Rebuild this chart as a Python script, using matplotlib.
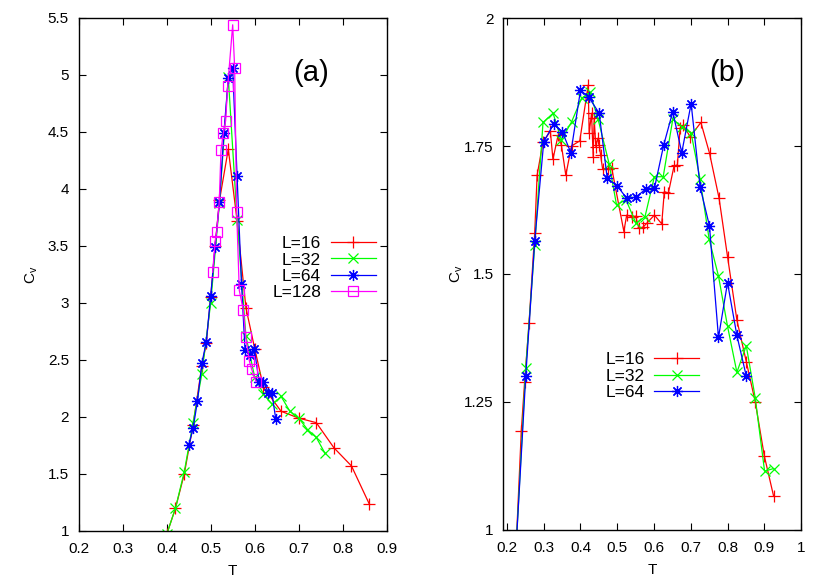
import matplotlib
matplotlib.use("Agg")
import matplotlib.pyplot as plt

plt.rcParams["font.family"] = ["Liberation Sans", "DejaVu Sans"]

# ---- panel (a) data ----
t16_a = [0.40, 0.42, 0.44, 0.46, 0.48, 0.49, 0.50, 0.51, 0.52, 0.54, 0.56, 0.58, 0.60, 0.62, 0.66, 0.70, 0.74, 0.78, 0.82, 0.86]
cv16_a = [0.97, 1.20, 1.50, 1.93, 2.45, 2.65, 3.05, 3.50, 3.90, 4.35, 3.72, 2.96, 2.60, 2.26, 2.05, 1.99, 1.95, 1.73, 1.57, 1.24]

t32_a = [0.40, 0.42, 0.44, 0.46, 0.48, 0.50, 0.52, 0.54, 0.56, 0.58, 0.60, 0.62, 0.64, 0.66, 0.68, 0.70, 0.72, 0.74, 0.76]
cv32_a = [0.97, 1.20, 1.52, 1.95, 2.38, 3.00, 3.88, 4.98, 3.73, 2.71, 2.35, 2.20, 2.11, 2.18, 2.05, 1.99, 1.89, 1.82, 1.68]

t64_a = [0.45, 0.46, 0.47, 0.48, 0.49, 0.50, 0.51, 0.52, 0.53, 0.54, 0.55, 0.56, 0.57, 0.578, 0.589, 0.599, 0.61, 0.62, 0.631, 0.639, 0.648]
cv64_a = [1.75, 1.90, 2.14, 2.47, 2.66, 3.06, 3.49, 3.89, 4.49, 4.97, 5.06, 4.11, 3.17, 2.59, 2.54, 2.60, 2.31, 2.31, 2.21, 2.21, 1.98]

t128_a = [0.5045, 0.51, 0.5136, 0.5195, 0.5234, 0.5287, 0.534, 0.5386, 0.55, 0.5545, 0.559, 0.565, 0.574, 0.5795, 0.588, 0.593, 0.603]
cv128_a = [3.27, 3.54, 3.62, 3.89, 4.34, 4.49, 4.60, 4.90, 5.44, 5.06, 3.80, 3.11, 2.94, 2.70, 2.49, 2.42, 2.31]

# ---- panel (b) data ----
t16_b = [0.225, 0.239, 0.248, 0.26, 0.2755, 0.282, 0.298, 0.318, 0.325, 0.339, 0.348, 0.36, 0.3756, 0.398,
         0.4209, 0.4236, 0.43, 0.4345, 0.4372, 0.4418, 0.4465, 0.451, 0.4547, 0.46, 0.4754, 0.4846,
         0.518, 0.5256, 0.539, 0.55, 0.559, 0.571, 0.58, 0.601, 0.621, 0.628, 0.639, 0.6545, 0.6636,
         0.671, 0.68, 0.698, 0.7275, 0.751, 0.777, 0.80, 0.8255, 0.851, 0.8755, 0.90, 0.9254]
cv16_b = [0.97, 1.194, 1.29, 1.404, 1.581, 1.693, 1.758, 1.779, 1.724, 1.771, 1.752, 1.693, 1.75, 1.76,
          1.869, 1.775, 1.814, 1.729, 1.804, 1.749, 1.765, 1.752, 1.732, 1.706, 1.706, 1.708,
          1.583, 1.615, 1.612, 1.613, 1.589, 1.592, 1.599, 1.615, 1.598, 1.661, 1.658, 1.711, 1.713,
          1.785, 1.791, 1.768, 1.796, 1.736, 1.648, 1.534, 1.41, 1.329, 1.25, 1.145, 1.066]

t32_b = [0.225, 0.251, 0.2755, 0.298, 0.3254, 0.348, 0.3756, 0.4028, 0.4255, 0.448, 0.478, 0.498, 0.5237,
         0.551, 0.5755, 0.601, 0.625, 0.651, 0.6755, 0.701, 0.7254, 0.75, 0.7754, 0.80, 0.8255, 0.851,
         0.8754, 0.9008, 0.9254]
cv32_b = [0.97, 1.316, 1.557, 1.796, 1.814, 1.762, 1.797, 1.843, 1.855, 1.802, 1.715, 1.635, 1.645,
          1.599, 1.612, 1.69, 1.69, 1.802, 1.788, 1.775, 1.685, 1.568, 1.496, 1.398, 1.308, 1.36,
          1.258, 1.115, 1.12]

t64_b = [0.225, 0.251, 0.2755, 0.30, 0.327, 0.351, 0.3737, 0.40, 0.4228, 0.4509, 0.4727, 0.50, 0.5256,
         0.551, 0.5774, 0.601, 0.6264, 0.651, 0.6755, 0.701, 0.7254, 0.7508, 0.7754, 0.80, 0.8255, 0.8509]
cv64_b = [0.97, 1.30, 1.565, 1.758, 1.793, 1.777, 1.737, 1.859, 1.845, 1.814, 1.687, 1.672, 1.648,
          1.65, 1.666, 1.667, 1.752, 1.817, 1.737, 1.833, 1.670, 1.594, 1.376, 1.483, 1.38, 1.301]

labels = ["L=16", "L=32", "L=64", "L=128"]
colors = ["#ff0000", "#00ff00", "#0000ff", "#ff00ff"]
star = (8, 2, 0)
markers = ["+", "x", star, "s"]
msizes = [8, 7, 8, 6.5]

FS = 11
LFS = 12.5


def style_axes(ax, ypad):
    ax.tick_params(direction="in", top=True, right=True, length=5, width=0.8,
                   labelsize=FS)
    ax.tick_params(axis="x", pad=8)
    ax.tick_params(axis="y", pad=7)
    for s in ax.spines.values():
        s.set_linewidth(1.0)
    ax.set_xlabel("T", fontsize=FS, labelpad=6)
    ax.set_ylabel(r"C$_\mathregular{v}$", fontsize=FS, labelpad=ypad)


def draw(ax, series):
    for (t, cv), lab, c, m, ms in zip(series, labels, colors, markers, msizes):
        mfc = "none" if m == "s" else c
        ax.plot(t, cv, color=c, lw=0.9, marker=m, ms=ms, mew=0.9,
                mfc=mfc, mec=c, label=lab)


def add_legend(ax, anchor):
    ax.legend(loc="upper right", bbox_to_anchor=anchor, frameon=False,
              markerfirst=False, fontsize=LFS, handlelength=2.6,
              handletextpad=0.55, labelspacing=0.07, borderpad=0,
              borderaxespad=0)


fig = plt.figure(figsize=(8.3, 5.81), dpi=100)

ax1 = fig.add_axes([0.0948, 0.0861, 0.3711, 0.8830])
draw(ax1, [(t16_a, cv16_a), (t32_a, cv32_a), (t64_a, cv64_a), (t128_a, cv128_a)])
ax1.set_xlim(0.2, 0.9)
ax1.set_ylim(1, 5.5)
ax1.set_xticks([0.2, 0.3, 0.4, 0.5, 0.6, 0.7, 0.8, 0.9])
ax1.set_xticklabels(["0.2", "0.3", "0.4", "0.5", "0.6", "0.7", "0.8", "0.9"])
ax1.set_yticks([1, 1.5, 2, 2.5, 3, 3.5, 4, 4.5, 5, 5.5])
ax1.set_yticklabels(["1", "1.5", "2", "2.5", "3", "3.5", "4", "4.5", "5", "5.5"])
style_axes(ax1, 6)
ax1.text(0.754, 0.893, "(a)", transform=ax1.transAxes, fontsize=21,
         ha="center", va="center")
add_legend(ax1, (0.965, 0.575))

ax2 = fig.add_axes([0.6064, 0.0878, 0.3587, 0.8812])
draw(ax2, [(t16_b, cv16_b), (t32_b, cv32_b), (t64_b, cv64_b)])
ax2.set_xlim(0.19, 1.0)
ax2.set_ylim(1, 2)
ax2.set_xticks([0.2, 0.3, 0.4, 0.5, 0.6, 0.7, 0.8, 0.9, 1.0])
ax2.set_xticklabels(["0.2", "0.3", "0.4", "0.5", "0.6", "0.7", "0.8", "0.9", "1"])
ax2.set_yticks([1, 1.25, 1.5, 1.75, 2])
ax2.set_yticklabels(["1", "1.25", "1.5", "1.75", "2"])
style_axes(ax2, -0.5)
ax2.text(0.751, 0.893, "(b)", transform=ax2.transAxes, fontsize=21,
         ha="center", va="center")
add_legend(ax2, (0.658, 0.347))

fig.savefig("out.png", dpi=100)
